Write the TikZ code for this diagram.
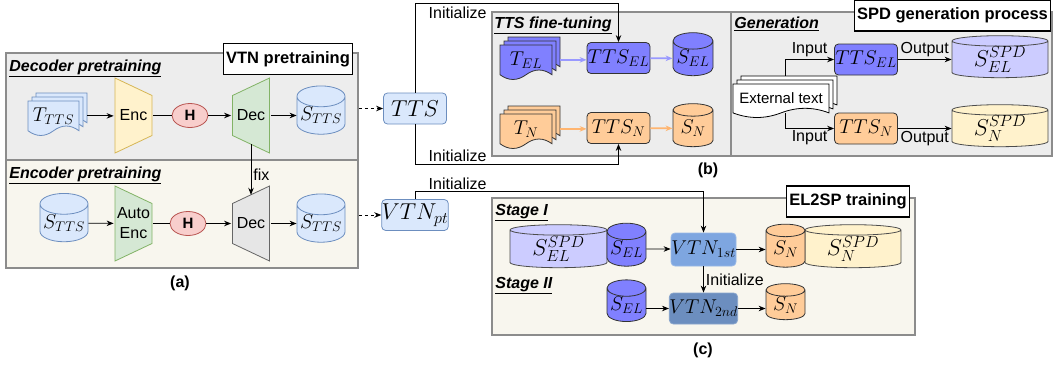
\RequirePackage{fix-cm}
\documentclass[tikz,border=0pt]{standalone}
\usepackage[no-math]{fontspec}
\setmainfont{Liberation Sans}
\usetikzlibrary{shapes.geometric,arrows.meta,calc,positioning}

\definecolor{panelgray}{HTML}{EDEDED}
\definecolor{panelbeige}{HTML}{F8F6EE}
\definecolor{panelline}{HTML}{8C8C8C}
\definecolor{lightblue}{HTML}{DAE8FC}
\definecolor{blueline}{HTML}{6C8EBF}
\definecolor{elfill}{HTML}{8080FF}
\definecolor{elarrow}{HTML}{9999FF}
\definecolor{elspd}{HTML}{CCCCFF}
\definecolor{nfill}{HTML}{FFCC99}
\definecolor{narrow}{HTML}{FFB570}
\definecolor{nspd}{HTML}{FFF2CC}
\definecolor{encfill}{HTML}{FFF2CC}
\definecolor{encline}{HTML}{D6B656}
\definecolor{decfill}{HTML}{D5E8D4}
\definecolor{decline}{HTML}{82B366}
\definecolor{decgray}{HTML}{E6E6E6}
\definecolor{grayline}{HTML}{666666}
\definecolor{hfill}{HTML}{F8CECC}
\definecolor{hline}{HTML}{B85450}
\definecolor{vtnone}{HTML}{7EA6E0}
\definecolor{vtntwo}{HTML}{6C8EBF}

\newcommand{\mtxt}{\fontsize{20}{22}\selectfont}
\newcommand{\mbig}{\fontsize{23}{25}\selectfont}

% one page of a document stack: top-left, width, height, style
\newcommand{\docpage}[4]{%
  \draw[#4,shift={(#1)},xscale=#2,yscale=#3] (0,0) -- (1,0) -- (1,0.85)
    .. controls (0.833,0.67) and (0.667,0.67) .. (0.5,0.85)
    .. controls (0.333,1.03) and (0.167,1.03) .. (0,0.85) -- cycle;}

% name, top-left of front page, width, height, style, text
\newcommand{\docstack}[6]{%
  \docpage{$(#2)+(8,-8)$}{#3}{#4}{#5}
  \docpage{$(#2)+(4,-4)$}{#3}{#4}{#5}
  \docpage{#2}{#3}{#4}{#5}
  \node[inner sep=0, minimum width=#3, minimum height=0.85*#4] (#1)
    at ($(#2)+(0.5*#3,0.425*#4)$) {#6};}

\begin{document}
\begin{tikzpicture}[x=1pt,y=-1pt,line width=0.8,
  >={Stealth[length=7pt,width=5.5pt]},
  every node/.style={font=\fontsize{16}{20}\selectfont},
  panel/.style={draw=panelline, line width=1.5, inner sep=0},
  title/.style={draw, fill=white, line width=1.2, inner xsep=3, minimum height=31,
    font=\bfseries\fontsize{16.5}{18}\selectfont},
  stage/.style={anchor=west, inner sep=1, font=\bfseries\itshape\fontsize{16}{18}\selectfont},
  model/.style={rounded corners=4, draw=black!80, minimum width=63, minimum height=31,
    inner sep=0, font=\mtxt},
  db/.style={cylinder, shape border rotate=90, aspect=0.5, draw=black!80, inner sep=0,
    font=\mtxt},
  widedb/.style={db, aspect=0.2, minimum width=96, minimum height=42, draw=black!70, font=\mbig},
  hnode/.style={ellipse, draw=hline, fill=hfill, minimum width=36, minimum height=24,
    inner sep=0, font=\bfseries\fontsize{15}{16}\selectfont},
  encshape/.style 2 args={inner sep=0, minimum width=39, minimum height=77,
    path picture={\filldraw[fill=#1,draw=#2]
      ([shift={(-18.5,-37.5)}]path picture bounding box.center)
      -- ++(37,17.5) -- ++(0,40) -- ++(-37,17.5) -- cycle;}},
  decshape/.style 2 args={inner sep=0, minimum width=39, minimum height=77,
    path picture={\filldraw[fill=#1,draw=#2]
      ([shift={(-18.5,-20)}]path picture bounding box.center)
      -- ++(37,-17.5) -- ++(0,75) -- ++(-37,-17.5) -- cycle;}},
  bluedoc/.style={fill=lightblue, draw=blueline},
  eldoc/.style={fill=elfill, draw=black!80},
  ndoc/.style={fill=nfill, draw=black!80},
  whitedoc/.style={fill=white, draw=black},
  elarr/.style={->, draw=elarrow, line width=1.8},
  narr/.style={->, draw=narrow, line width=1.8},
  caption/.style={font=\bfseries\fontsize{16}{18}\selectfont}]

  \useasboundingbox (0,0) rectangle (1056,364);
  \coordinate (topline) at (0,3);
  \coordinate (botline) at (0,164);
  \coordinate (vtnline) at (0,191);

  % (a) VTN pretraining
  \node[panel, fill=panelgray, minimum width=352, minimum height=107] (decbox) at (182,106.5) {};
  \node[panel, fill=panelbeige, minimum width=352, minimum height=108] (encbox) at (182,214) {};
  \node[title] (vtntitle) at (288,59) {VTN pretraining};
  \node[stage] (decstage) at (8,68) {\underline{Decoder pretraining}};
  \node[stage] (encstage) at (8,175) {\underline{Encoder pretraining}};

  \docstack{ttsdoc}{28,101}{51}{35}{bluedoc}{\mtxt$T_{TTS}$}
  \node[encshape={encfill}{encline}] (enc1) at (133.5,115.5) {Enc};
  \node[hnode] (h1) at (190,115.5) {H};
  \node[decshape={decfill}{decline}] (dec1) at (251,115.5) {Dec};
  \node[db, bluedoc, minimum width=48, minimum height=45] (stts1) at (321,115.5) {$S_{TTS}$};
  \draw[->] ([xshift=8]ttsdoc.east) -- (ttsdoc.east -| enc1.west);
  \draw (enc1) -- (h1);
  \draw[->] (h1) -- (dec1);
  \draw[->] (dec1) -- (stts1);

  \node[db, bluedoc, minimum width=48, minimum height=42] (stts2) at (64,223) {$S_{TTS}$};
  \node[encshape={decfill}{decline}, align=center] (enc2) at (133.5,223.5) {Auto\\Enc};
  \node[hnode] (h2) at (188,223.5) {H};
  \node[decshape={decgray}{grayline}] (dec2) at (251,223.5) {Dec};
  \node[db, bluedoc, minimum width=48, minimum height=42] (stts3) at (321,223.5) {$S_{TTS}$};
  \draw[->] (stts2) -- (enc2);
  \draw (enc2) -- (h2);
  \draw[->] (h2) -- (dec2);
  \draw[->] (dec2) -- (stts3);
  \draw[->, shorten <=28.5pt, shorten >=28.7pt] (dec1.center) -- node[right, pos=0.55, inner sep=2] {fix} (dec2.center);
  \node[caption] (capa) at (180,283) {(a)};

  % pretrained models
  \node[model, fill=lightblue, draw=blueline, font=\mbig] (tts) at (415,108.5) {$TTS$};
  \node[model, fill=lightblue, draw=blueline, font=\mbig] (vtnpt) at (415,215) {$VTN_{pt}$};
  \draw[->, dash pattern=on 3pt off 3pt] (decbox.east |- tts) -- (tts);
  \draw[->, dash pattern=on 3pt off 3pt] (encbox.east |- vtnpt) -- (vtnpt);

  % (b) SPD generation process
  \node[panel, fill=panelgray, minimum width=239, minimum height=144] (ftbox) at (611.5,84) {};
  \node[panel, fill=panelgray, minimum width=321, minimum height=144] (genbox) at (891.5,84) {};
  \node[title] (spdtitle) at (952.5,15.5) {SPD generation process};
  \node[stage] (ftstage) at (493,25) {\underline{TTS fine-tuning}};
  \node[stage] (genstage) at (733,24) {\underline{Generation}};

  \docstack{tel}{500,45}{52}{35}{eldoc}{\mtxt$T_{EL}$}
  \node[model, fill=elfill] (ttsel) at (618.5,58) {$TTS_{EL}$};
  \node[db, fill=elfill, minimum width=40, minimum height=43] (sel) at (693,58.5) {$S_{EL}$};
  \docstack{tn}{500,114}{52}{35}{ndoc}{\mtxt$T_N$}
  \node[model, fill=nfill] (ttsn) at (618.5,128) {$TTS_N$};
  \node[db, fill=nfill, minimum width=40, minimum height=43] (sn) at (693,128.5) {$S_N$};
  \draw[elarr] ([xshift=8]tel.east) -- (tel.east -| ttsel.west);
  \draw[elarr] (ttsel) -- (sel);
  \draw[narr] ([xshift=8]tn.east) -- (tn.east -| ttsn.west);
  \draw[narr] (ttsn) -- (sn);

  \draw[->] (tts.north) |- (ttsel.north |- topline) -- (ttsel.north);
  \draw[->] (tts.south) |- (ttsn.south |- botline) -- (ttsn.south);
  \node[anchor=west] (init1) at (425,13) {Initialize};
  \node[anchor=west] (init2) at (425,156) {Initialize};

  \node[model, fill=elfill] (gttsel) at (866,59.5) {$TTS_{EL}$};
  \node[widedb, fill=elspd] (gsel) at (1000,59.5) {$S^{SPD}_{EL}$};
  \docstack{ext}{733,84}{96}{34}{whitedoc}{\fontsize{15}{17}\selectfont External text}
  \node[model, fill=nfill] (gttsn) at (866,128.5) {$TTS_N$};
  \node[widedb, fill=nspd] (gsn) at (1000,128.5) {$S^{SPD}_N$};
  \draw[->] ([shift={(4,-8)}]ext.north) |- node[above, pos=0.75, inner sep=2] {Input} (gttsel);
  \draw[->] ([xshift=4]ext.south) |- node[below, pos=0.75, inner sep=2] {Input} (gttsn);
  \draw[->] (gttsel) -- node[above, inner sep=2] {Output} (gsel);
  \draw[->] (gttsn) -- node[below, inner sep=2] {Output} (gsn);
  \node[caption] (capb) at (708,170) {(b)};

  % (c) EL2SP training
  \node[panel, fill=panelbeige, minimum width=423, minimum height=137] (trainbox) at (703.5,266.5) {};
  \node[title] (el2title) at (848,201.5) {EL2SP training};
  \node[stage] (stage1) at (494,213) {\underline{Stage I}};
  \node[stage] (stage2) at (494,286) {\underline{Stage II}};

  \node[widedb, fill=elspd, minimum width=97, minimum height=43] (cspdel) at (558.5,249) {$S^{SPD}_{EL}$};
  \node[db, fill=elfill, minimum width=39, minimum height=43] (csel1) at (626.5,249) {$S_{EL}$};
  \node[model, fill=vtnone, draw=vtnone!80!white, minimum width=65, minimum height=33] (vtn1) at (703.5,249.5) {$VTN_{1st}$};
  \node[widedb, fill=nspd, minimum height=43] (cspdn) at (853,249) {$S^{SPD}_N$};
  \node[db, fill=nfill, minimum width=39, minimum height=43] (csn1) at (785.5,249) {$S_N$};
  \node[db, fill=elfill, minimum width=39, minimum height=36] (csel2) at (626.5,305) {$S_{EL}$};
  \node[model, fill=vtntwo, draw=vtntwo!80!white, minimum width=65, minimum height=31] (vtn2) at (703.5,308.5) {$VTN_{2nd}$};
  \node[db, fill=nfill, minimum width=39, minimum height=36] (csn2) at (785.5,305) {$S_N$};
  \draw[->] (vtnpt.north) |- (vtn1.north |- vtnline) -- (vtn1.north);
  \node[anchor=west] (init3) at (425,184) {Initialize};
  \draw[->] (csel1) -- (csel1 -| vtn1.west);
  \draw[->] (vtn1) -- (vtn1 -| csn1.west);
  \draw[->] (vtn1) -- node[right, inner sep=2] {Initialize} (vtn2);
  \draw[->] (csel2.east |- vtn2) -- (vtn2);
  \draw[->] (vtn2) -- (vtn2 -| csn2.west);
  \node[caption] (capc) at (703,350) {(c)};
\end{tikzpicture}
\end{document}
